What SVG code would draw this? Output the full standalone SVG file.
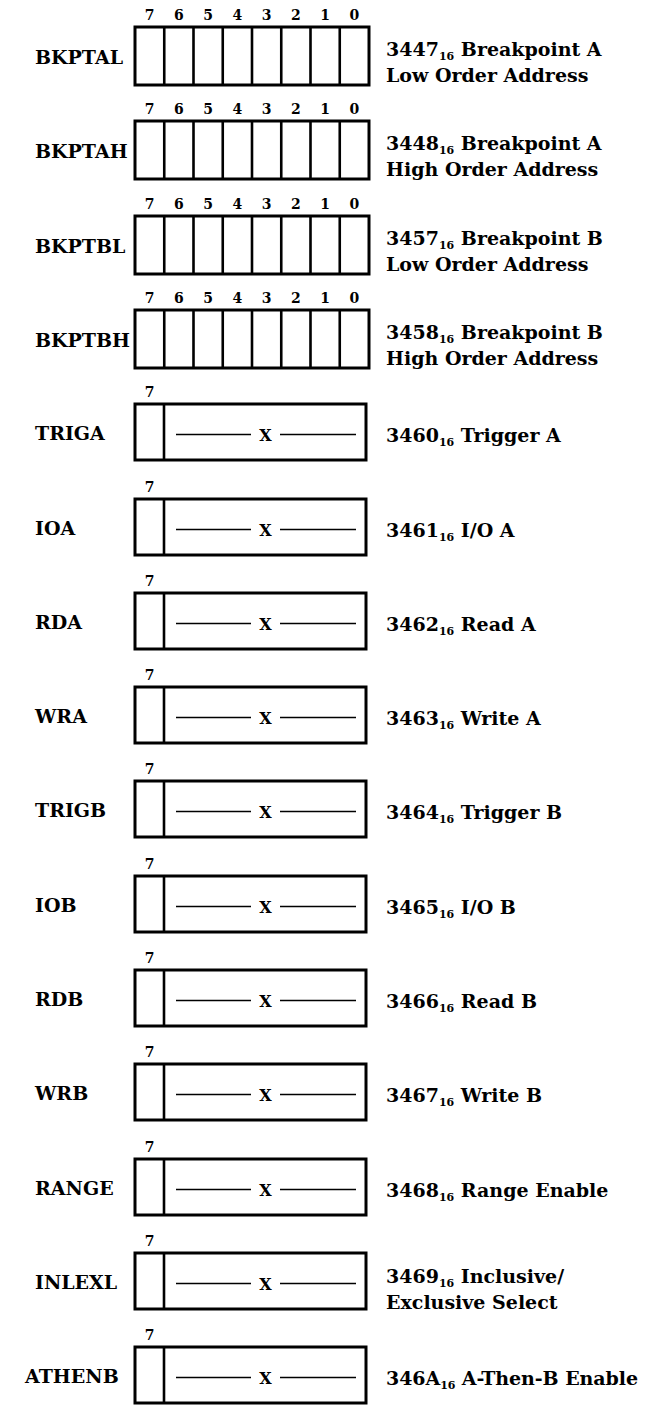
<svg xmlns="http://www.w3.org/2000/svg" width="646" height="1406" viewBox="0 0 646 1406">
<style>
.box{fill:none;stroke:#000;stroke-width:3}
.dv{stroke:#000;stroke-width:2.6}
.ln{stroke:#000;stroke-width:1.6}
text{font-family:"DejaVu Serif","Liberation Serif",serif;font-weight:bold;fill:#000}
.lbl{font-size:19px}
.txt{font-size:19px}
.bit{font-size:14px;text-anchor:middle}
.x{font-size:16px;text-anchor:middle}
.sub{font-size:11px}
</style>
<defs>
<g id="reg8">
<rect class="box" x="135" y="0" width="234" height="58"/>
<path class="dv" d="M164.25 0V58M193.5 0V58M222.75 0V58M252 0V58M281.25 0V58M310.5 0V58M339.75 0V58"/>
<text class="bit" x="149.6" y="-7">7</text><text class="bit" x="178.9" y="-7">6</text><text class="bit" x="208.1" y="-7">5</text><text class="bit" x="237.4" y="-7">4</text><text class="bit" x="266.6" y="-7">3</text><text class="bit" x="295.9" y="-7">2</text><text class="bit" x="325.1" y="-7">1</text><text class="bit" x="354.4" y="-7">0</text>
</g>
<g id="reg1">
<rect class="box" x="135" y="0" width="231" height="56"/>
<path class="dv" d="M164 0V56"/>
<path class="ln" d="M176 30.5H251M280 30.5H356"/>
<text class="x" x="265.5" y="36.5">X</text>
<text class="bit" x="149.5" y="-7">7</text>
</g>
</defs>

<g id="BKPTAL" transform="translate(0,27)">
<use href="#reg8"/>
<text class="lbl" x="35" y="37">BKPTAL</text>
<text class="txt" x="386" y="29">3447<tspan class="sub" dy="4">16</tspan><tspan dy="-4"> Breakpoint A</tspan></text>
<text class="txt" x="386" y="55">Low Order Address</text>
</g>
<g id="BKPTAH" transform="translate(0,121)">
<use href="#reg8"/>
<text class="lbl" x="35" y="37">BKPTAH</text>
<text class="txt" x="386" y="29">3448<tspan class="sub" dy="4">16</tspan><tspan dy="-4"> Breakpoint A</tspan></text>
<text class="txt" x="386" y="55">High Order Address</text>
</g>
<g id="BKPTBL" transform="translate(0,216)">
<use href="#reg8"/>
<text class="lbl" x="35" y="37">BKPTBL</text>
<text class="txt" x="386" y="29">3457<tspan class="sub" dy="4">16</tspan><tspan dy="-4"> Breakpoint B</tspan></text>
<text class="txt" x="386" y="55">Low Order Address</text>
</g>
<g id="BKPTBH" transform="translate(0,310)">
<use href="#reg8"/>
<text class="lbl" x="35" y="37">BKPTBH</text>
<text class="txt" x="386" y="29">3458<tspan class="sub" dy="4">16</tspan><tspan dy="-4"> Breakpoint B</tspan></text>
<text class="txt" x="386" y="55">High Order Address</text>
</g>
<g id="TRIGA" transform="translate(0,404)">
<use href="#reg1"/>
<text class="lbl" x="35" y="36">TRIGA</text>
<text class="txt" x="386" y="38">3460<tspan class="sub" dy="4">16</tspan><tspan dy="-4"> Trigger A</tspan></text>
</g>
<g id="IOA" transform="translate(0,499)">
<use href="#reg1"/>
<text class="lbl" x="35" y="36">IOA</text>
<text class="txt" x="386" y="38">3461<tspan class="sub" dy="4">16</tspan><tspan dy="-4"> I/O A</tspan></text>
</g>
<g id="RDA" transform="translate(0,593)">
<use href="#reg1"/>
<text class="lbl" x="35" y="36">RDA</text>
<text class="txt" x="386" y="38">3462<tspan class="sub" dy="4">16</tspan><tspan dy="-4"> Read A</tspan></text>
</g>
<g id="WRA" transform="translate(0,687)">
<use href="#reg1"/>
<text class="lbl" x="35" y="36">WRA</text>
<text class="txt" x="386" y="38">3463<tspan class="sub" dy="4">16</tspan><tspan dy="-4"> Write A</tspan></text>
</g>
<g id="TRIGB" transform="translate(0,781)">
<use href="#reg1"/>
<text class="lbl" x="35" y="36">TRIGB</text>
<text class="txt" x="386" y="38">3464<tspan class="sub" dy="4">16</tspan><tspan dy="-4"> Trigger B</tspan></text>
</g>
<g id="IOB" transform="translate(0,876)">
<use href="#reg1"/>
<text class="lbl" x="35" y="36">IOB</text>
<text class="txt" x="386" y="38">3465<tspan class="sub" dy="4">16</tspan><tspan dy="-4"> I/O B</tspan></text>
</g>
<g id="RDB" transform="translate(0,970)">
<use href="#reg1"/>
<text class="lbl" x="35" y="36">RDB</text>
<text class="txt" x="386" y="38">3466<tspan class="sub" dy="4">16</tspan><tspan dy="-4"> Read B</tspan></text>
</g>
<g id="WRB" transform="translate(0,1064)">
<use href="#reg1"/>
<text class="lbl" x="35" y="36">WRB</text>
<text class="txt" x="386" y="38">3467<tspan class="sub" dy="4">16</tspan><tspan dy="-4"> Write B</tspan></text>
</g>
<g id="RANGE" transform="translate(0,1159)">
<use href="#reg1"/>
<text class="lbl" x="35" y="36">RANGE</text>
<text class="txt" x="386" y="38">3468<tspan class="sub" dy="4">16</tspan><tspan dy="-4"> Range Enable</tspan></text>
</g>
<g id="INLEXL" transform="translate(0,1253)">
<use href="#reg1"/>
<text class="lbl" x="35" y="36">INLEXL</text>
<text class="txt" x="386" y="30">3469<tspan class="sub" dy="4">16</tspan><tspan dy="-4"> Inclusive/</tspan></text>
<text class="txt" x="386" y="56">Exclusive Select</text>
</g>
<g id="ATHENB" transform="translate(0,1347)">
<use href="#reg1"/>
<text class="lbl" x="25" y="36">ATHENB</text>
<text class="txt" x="386" y="38" textLength="252" lengthAdjust="spacing">346A<tspan class="sub" dy="4">16</tspan><tspan dy="-4"> A-Then-B Enable</tspan></text>
</g>
</svg>
